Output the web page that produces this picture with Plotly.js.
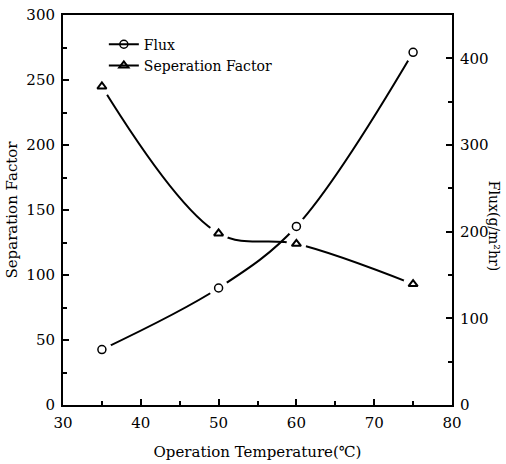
<!DOCTYPE html>
<html>
<head>
<meta charset="utf-8">
<script src="https://cdn.plot.ly/plotly-3.0.1.min.js"></script>
<style>html,body{margin:0;padding:0;background:#fff;}#chart{width:506px;height:464px;}</style>
</head>
<body>
<div id="chart"></div>
<script>
// Data
const temperatures = [35, 50, 60, 75];            // Operation Temperature (℃)
const fluxValues = [64, 135, 206, 407];           // Flux (g/m²hr), right axis
const separationFactor = [245, 132, 124, 93];     // Separation Factor, left axis

const xTickVals = [30, 40, 50, 60, 70, 80];
const yLeftTickVals = [0, 50, 100, 150, 200, 250, 300];
const yRightTickVals = [0, 100, 200, 300, 400];

const FONT = "DejaVu Serif";

const traces = [
  // curves (legend entries)
  {x: temperatures, y: fluxValues, yaxis: 'y2', name: 'Flux', mode: 'lines+markers',
   line: {shape: 'spline', smoothing: 1, color: '#000', width: 2},
   marker: {symbol: 'circle-open', size: 8, color: '#000', line: {width: 1.5}}},
  {x: temperatures, y: separationFactor, yaxis: 'y', name: 'Seperation Factor', mode: 'lines+markers',
   line: {shape: 'spline', smoothing: 1, color: '#000', width: 2},
   marker: {symbol: 'triangle-up-open', size: 8, color: '#000', line: {width: 2}}},
  // white masks leave a small gap between each curve and its markers
  {x: temperatures, y: fluxValues, yaxis: 'y2', mode: 'markers', showlegend: false, hoverinfo: 'skip',
   marker: {symbol: 'circle', size: 20, color: '#fff', line: {width: 0}}},
  {x: temperatures, y: separationFactor, yaxis: 'y', mode: 'markers', showlegend: false, hoverinfo: 'skip',
   marker: {symbol: 'circle', size: 20, color: '#fff', line: {width: 0}}},
  // markers on top
  {x: temperatures, y: fluxValues, yaxis: 'y2', mode: 'markers', showlegend: false,
   marker: {symbol: 'circle-open', size: 8, color: '#000', line: {width: 1.5}}},
  {x: temperatures, y: separationFactor, yaxis: 'y', mode: 'markers', showlegend: false,
   marker: {symbol: 'triangle-up-open', size: 8, color: '#000', line: {width: 2}}}
];

const layout = {
  width: 506, height: 464,
  margin: {l: 63, r: 54, t: 15, b: 59},
  paper_bgcolor: '#fff', plot_bgcolor: '#fff',
  font: {family: FONT, size: 14, color: '#000'},
  showlegend: true,
  legend: {x: 0.105, y: 0.965, xanchor: 'left', yanchor: 'top', bgcolor: 'rgba(0,0,0,0)',
           font: {family: FONT, size: 14, color: '#000'}, itemwidth: 30, tracegroupgap: 0},
  xaxis: {
    range: [30, 80], tickvals: xTickVals, ticks: 'inside', ticklen: 6, tickwidth: 2, tickcolor: '#000',
    minor: {dtick: 5, tick0: 30, ticks: 'inside', ticklen: 4, tickwidth: 2, tickcolor: '#000', showgrid: false},
    showline: true, linewidth: 2, linecolor: '#000', mirror: true, showgrid: false, zeroline: false,
    tickfont: {family: FONT, size: 15}, ticklabelstandoff: 3,
    title: {text: 'Operation Temperature(℃)', font: {family: FONT, size: 15}, standoff: 15}
  },
  yaxis: {
    range: [0, 300], tickvals: yLeftTickVals, ticks: 'inside', ticklen: 6, tickwidth: 2, tickcolor: '#000',
    minor: {dtick: 25, tick0: 0, ticks: 'inside', ticklen: 4, tickwidth: 2, tickcolor: '#000', showgrid: false},
    showline: true, linewidth: 2, linecolor: '#000', showgrid: false, zeroline: false,
    tickfont: {family: FONT, size: 15}, ticklabelstandoff: 3,
    title: {text: 'Separation Factor', font: {family: FONT, size: 15}, standoff: 5}
  },
  yaxis2: {
    range: [0, 450], overlaying: 'y', side: 'right', tickvals: yRightTickVals,
    ticks: 'inside', ticklen: 6, tickwidth: 2, tickcolor: '#000',
    minor: {dtick: 50, tick0: 0, ticks: 'inside', ticklen: 4, tickwidth: 2, tickcolor: '#000', showgrid: false},
    showline: true, linewidth: 2, linecolor: '#000', showgrid: false, zeroline: false,
    tickfont: {family: FONT, size: 15}, ticklabelstandoff: 3
  },
  annotations: [{
    text: 'Flux(g/m²hr)', xref: 'paper', yref: 'paper', x: 1.11, y: 0.46,
    xanchor: 'center', yanchor: 'middle', textangle: 90, showarrow: false,
    font: {family: FONT, size: 14, color: '#000'}
  }]
};

Plotly.newPlot('chart', traces, layout, {staticPlot: true, displayModeBar: false});
</script>
</body>
</html>
